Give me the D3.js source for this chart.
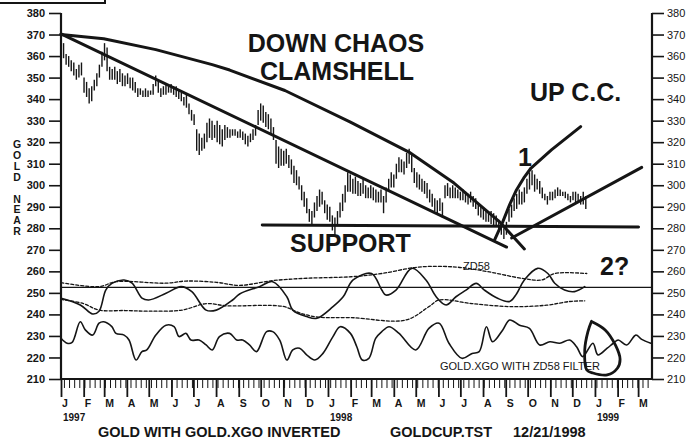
<!DOCTYPE html>
<html><head><meta charset="utf-8">
<script src="https://cdn.jsdelivr.net/npm/d3@7"></script>
<style>
body{margin:0;background:#fff}
svg{display:block}
text{font-family:"Liberation Sans",Arial,Helvetica,sans-serif;fill:#151515}
</style>
</head><body>
<svg id="c" width="695" height="442"></svg>
<script>
// ---------- DATA ----------
// Gold price bars, one every 3.5 days from Jan 1 1997 (high / low)
const priceHigh = [
367,366,361,360,358,357,354,356,357,350,
348,345,346,349,352,356,362,366,364,355,
354,355,353,354,352,351,352,350,350,348,
345,345,344,345,344,344,347,351,349,345,
346,347,346,347,346,346,344,343,341,342,
338,335,333,326,324,322,324,329,331,330,
328,330,328,326,328,327,326,326,326,325,
326,325,324,323,324,326,328,335,338,337,
334,333,331,327,321,318,317,316,317,314,
312,309,307,304,300,297,294,289,288,292,
295,298,297,293,291,290,286,285,288,292,
296,300,306,305,303,304,302,301,303,300,
299,300,299,298,297,298,295,299,303,306,
305,310,313,312,311,315,317,314,308,306,
305,303,302,301,298,296,294,293,294,292,
300,301,299,300,299,298,297,298,297,296,
297,295,294,291,290,289,288,288,288,287,
286,284,282,280,283,289,291,294,296,298,
297,299,303,306,307,305,303,302,299,296,
295,297,297,298,299,298,297,297,296,295,
297,297,296,295,297,295];
const priceLow = [
361,359,356,355,353,351,349,350,351,343,
341,338,339,344,346,350,355,358,353,349,
349,349,347,348,346,346,347,345,344,343,
341,342,341,341,341,342,342,346,343,341,
342,342,343,343,342,341,340,339,337,336,
333,330,328,316,314,316,317,320,322,321,
322,320,319,318,321,322,322,323,323,322,
322,321,319,318,320,321,323,328,330,329,
327,326,324,321,310,308,309,309,310,308,
305,301,300,298,293,290,287,283,282,285,
288,290,291,287,284,283,279,276,281,285,
288,292,297,297,296,296,295,295,296,294,
294,294,293,292,292,292,287,292,297,299,
299,303,306,306,305,308,310,306,301,299,
298,297,296,294,292,290,288,287,288,285,
294,295,294,294,294,294,293,293,292,291,
292,290,289,286,285,284,283,283,282,281,
281,279,277,275,277,283,285,288,289,291,
291,292,296,298,300,297,298,296,294,293,
291,293,293,294,295,295,295,294,293,292,
293,292,292,291,291,289];

// Time positions below are in months since Jan 1997
const zdMonths = [0,0.85,1.44,1.75,2.07,2.34,2.88,3.24,3.69,4.0,4.76,5.44,5.93,6.56,7.01,7.73,8.04,8.94,9.53,10.16,10.43,11.06,11.51,12.22,12.67,13.12,14.02,14.47,14.65,15.1,15.82,16.45,16.9,17.35,17.8,18.25,18.7,19.06,19.64,20.18,20.49,20.85,21.44,21.89,22.2,22.65,23.1,23.55];
const zdValues = [247.5,244.4,240.2,241.5,251.3,254.4,256,254.5,247.6,246.7,249.8,252.9,250.6,242,242,246.7,249.5,252.9,255.2,248.2,242,239,238.2,243.6,248.2,256,259,251.3,249,251.3,261.4,256,248.2,244.4,248.2,251.3,254.4,251.3,247.5,246,249.5,256,261.4,259,254.5,251.3,250.6,252.9];

const upperMonths = [0,1.75,2.52,4.76,5.66,7.01,8.04,9.53,11.06,13.03,14.47,16.13,17.8,19.19,20.72,21.62,22.2,23.64];
const upperValues = [254.8,252.9,255.2,254.5,255.5,254.9,253.5,255.7,256.8,257.5,259,262,262,259.9,256.8,256,259,259];

const lowerMonths = [0,0.99,1.75,2.92,4.0,5.48,6.56,7.46,9.98,10.74,11.51,13.03,15.55,16.58,17.03,18.52,20.31,21.84,22.88,23.55];
const lowerValues = [247,245,242,241.8,241.5,242,245,244,243.7,240.7,238.8,238.5,237.4,243.6,246.7,245,243.6,244.3,246,246.3];

const zeroLevel = 252.6;

const xgoMonths = [0,0.27,0.49,0.85,1.08,1.44,1.75,1.98,2.34,2.52,2.88,3.1,3.42,3.69,3.91,4.31,4.76,5.12,5.35,5.66,5.89,6.25,6.56,6.83,7.15,7.6,7.91,8.18,8.49,8.81,9.26,9.53,9.84,10.16,10.43,10.74,11.06,11.42,11.78,12.22,12.54,12.99,13.3,13.57,13.89,14.2,14.47,14.79,15.24,16.0,16.58,17.03,17.48,18.07,18.52,18.83,19.15,19.42,19.87,20.18,20.63,21.08,21.53,21.98,22.43,22.88,23.19,23.46,23.91,24.13,24.54,24.81,25.03,25.44,25.89,26.16,26.56];
const xgoValues = [228.9,226.6,227,236.6,232.8,230.4,235.9,236.6,234.3,231.2,230.4,228.1,218.8,222.7,223.5,230.4,235,234.3,229.7,231.2,228.1,228.1,225.8,223.5,229.7,231.2,228.1,228.1,225.8,222.7,232,232,228.1,218.8,223.5,224.3,221.2,218.8,221.9,229.7,234.3,231.2,225,218.8,219.6,228.9,232,234.3,231.2,223.5,233.5,235.9,226.6,219.6,221.9,222.7,234.3,227.3,232.8,237.4,235,233.5,225.8,227.3,226.6,228.1,225,220.4,226.6,221.2,224.3,226.6,228.1,225.8,230.4,228.4,226.6];

// Hand-drawn trend annotations (months, price)
const outerMonths = [0,1.98,4.31,6.83,7.6,10.07,12.99,15.69,17.71,19.73,20.85];
const outerValues = [370,368,363,356,353.5,344,329.3,315.4,301,283,270.4];
const innerMonths = [0,20.04];
const innerValues = [370.3,271.3];
const supportMonths = [9.07,26.02];
const supportValues = [281.5,280.6];
const upCurveMonths = [19.51,19.87,20.18,20.49,20.85,21.15,22.05,23.37];
const upCurveValues = [274.6,283,291,297.8,303.8,308,316.4,327.2];
const upLineMonths = [20.27,26.16];
const upLineValues = [275.5,308.3];
const loopMonths = [23.87,24.45,24.9,25.12,24.99,24.54,23.91,23.64,23.55,23.69,23.85];
const loopValues = [236.6,232.8,225.8,219.2,215,211.9,212.8,214.2,223.5,232,236.8];

const yTicks = [210,220,230,240,250,260,270,280,290,300,310,320,330,340,350,360,370,380];
const monthLetters = ["J","F","M","A","M","J","J","A","S","O","N","D","J","F","M","A","M","J","J","A","S","O","N","D","J","F","M"];
const yearLabels = ["1997","1998","1999"];

// ---------- CHART ----------
const svg = d3.select("#c");
const t0 = new Date(1997,0,1);
const x = d3.scaleTime().domain([t0, new Date(1999,2,20)]).range([61,652]);
const y = d3.scaleLinear().domain([210,380]).range([379,13]);
const mdate = m => { const mi = Math.floor(m), f = m - mi; const a = new Date(1997,mi,1), b = new Date(1997,mi+1,1); return new Date(+a + f*(b-a)); };
const pdate = i => new Date(+t0 + i*3.5*864e5);
const ink = "#151515";

// price bars
svg.append("g").selectAll("line").data(priceHigh).join("line")
  .attr("x1",(d,i)=>x(pdate(i))).attr("x2",(d,i)=>x(pdate(i)))
  .attr("y1",d=>y(d)).attr("y2",(d,i)=>y(priceLow[i]))
  .attr("stroke",ink).attr("stroke-width",1.4);

function path(ms, vs, curve, w, dash){
  const pts = ms.map((m,i)=>[x(mdate(m)), y(vs[i])]);
  const p = svg.append("path").attr("d", d3.line().curve(curve)(pts))
    .attr("fill","none").attr("stroke",ink).attr("stroke-width",w)
    .attr("stroke-linejoin","round").attr("stroke-linecap","round");
  if (dash) p.attr("stroke-dasharray",dash);
  return p;
}
// trend annotations
path(outerMonths, outerValues, d3.curveLinear, 3);
path(innerMonths, innerValues, d3.curveLinear, 3);
path(supportMonths, supportValues, d3.curveLinear, 3);
path(upCurveMonths, upCurveValues, d3.curveLinear, 3);
path(upLineMonths, upLineValues, d3.curveLinear, 3);

// oscillators
svg.append("line").attr("x1",x.range()[0]).attr("x2",x.range()[1])
  .attr("y1",y(zeroLevel)).attr("y2",y(zeroLevel)).attr("stroke",ink).attr("stroke-width",1.2);
path(upperMonths, upperValues, d3.curveCatmullRom, 1.3, "3,2");
path(lowerMonths, lowerValues, d3.curveCatmullRom, 1.3, "3,2");
path(zdMonths, zdValues, d3.curveCatmullRom, 1.6);
path(xgoMonths, xgoValues, d3.curveCatmullRom, 1.6);
path(loopMonths, loopValues, d3.curveCatmullRom, 2.8);

// axes
const fontAxis = g => g.selectAll("text").style("font-size","11px").style("font-weight","bold").attr("fill",ink);
const gl = svg.append("g").attr("transform","translate(61,0)")
  .call(d3.axisLeft(y).tickValues(yTicks).tickSize(12).tickPadding(4));
gl.select(".domain").remove(); gl.selectAll("line").attr("stroke",ink).attr("stroke-width",1.6); fontAxis(gl);
const gr = svg.append("g").attr("transform","translate(652,0)")
  .call(d3.axisRight(y).tickValues(yTicks).tickSize(12).tickPadding(3));
gr.select(".domain").remove(); gr.selectAll("line").attr("stroke",ink).attr("stroke-width",1.6);
gr.selectAll("text").style("font-size","11px").attr("fill",ink);

const gbMinor = svg.append("g").attr("transform","translate(0,379)")
  .call(d3.axisBottom(x).ticks(d3.timeWeek.every(1)).tickSize(9).tickFormat(""));
gbMinor.select(".domain").remove(); gbMinor.selectAll("line").attr("stroke",ink).attr("stroke-width",1);
const months = d3.timeMonth.range(t0, new Date(1999,2,20));
const gbMajor = svg.append("g").attr("transform","translate(0,379)")
  .call(d3.axisBottom(x).tickValues(months).tickSize(18).tickFormat(""));
gbMajor.select(".domain").remove(); gbMajor.selectAll("line").attr("stroke",ink).attr("stroke-width",1.8);
svg.append("g").selectAll("text").data(months).join("text")
  .attr("x",d=>x(d)+1).attr("y",407).text((d,i)=>monthLetters[i])
  .style("font-size","10.5px").style("font-weight","bold");
svg.append("g").selectAll("text").data(yearLabels).join("text")
  .attr("x",(d,i)=>x(new Date(1997+i,0,1))+2).attr("y",421).text(d=>d)
  .style("font-size","10px").style("font-weight","bold");

// axis frame lines
svg.append("path").attr("d",`M61,13V379H652V13`).attr("fill","none").attr("stroke",ink).attr("stroke-width",2.2);
svg.append("path").attr("d","M0,3H105V0").attr("fill","none").attr("stroke",ink).attr("stroke-width",2);

// labels
const big = (t,xx,yy,anchor) => svg.append("text").attr("x",xx).attr("y",yy).attr("text-anchor",anchor||"start")
  .text(t).style("font-size","25px").style("font-weight","bold");
big("DOWN CHAOS",336,52,"middle");
big("CLAMSHELL",337,80,"middle");
big("UP C.C.",530,101);
big("SUPPORT",290,252);
big("1",518,166);
big("2?",600,275);
svg.append("text").attr("x",463).attr("y",270).text("ZD58").style("font-size","11px");
svg.append("text").attr("x",440).attr("y",370).text("GOLD.XGO WITH ZD58 FILTER").style("font-size","11px");
const yl = ["G","O","L","D","","N","E","A","R"];
svg.append("g").selectAll("text").data(yl).join("text")
  .attr("x",17).attr("y",(d,i)=>148+i*10.9).attr("text-anchor","middle").text(d=>d)
  .style("font-size","10.5px").style("font-weight","bold");
const foot = (t,xx) => svg.append("text").attr("x",xx).attr("y",437).text(t).style("font-size","14.5px").style("font-weight","bold");
foot("GOLD WITH GOLD.XGO INVERTED",98);
foot("GOLDCUP.TST",390);
foot("12/21/1998",513);
</script>
</body></html>
